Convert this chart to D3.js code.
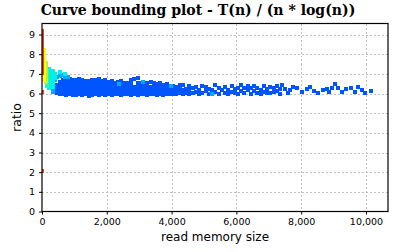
<!DOCTYPE html>
<html>
<head>
<meta charset="utf-8">
<script src="https://cdn.jsdelivr.net/npm/d3@7"></script>
<style>
  html, body { margin: 0; padding: 0; background: #ffffff; }
  svg { display: block; }
</style>
</head>
<body>
<svg id="chart" width="396" height="252"></svg>
<script>
// ---------------- data ----------------
const titleText = "Curve bounding plot - T(n) / (n * log(n))";
const xLabel = "read memory size";
const yLabel = "ratio";
const xTicks = [0, 2000, 4000, 6000, 8000, 10000];
const yTicks = [0, 1, 2, 3, 4, 5, 6, 7, 8, 9];
const xMax = 10680;
const yMax = 9.56;

// colour level of each group (0 = blue ... 6 = red)
const groupLevels = ["blue", "sky", "cyan", "green", "lime", "yellow", "red"];

const bluePoints = [
  [450,6.05],[450,6.25],[450,6.45],
  [550,5.98],[550,6.2],[550,6.4],[550,6.6],
  [650,5.95],[650,6.15],[650,6.35],[650,6.55],[650,6.7],
  [750,5.93],[750,6.12],[750,6.32],[750,6.52],[750,6.72],
  [850,5.95],[850,6.15],[850,6.35],[850,6.55],[850,6.75],
  [950,5.92],[950,6.1],[950,6.3],[950,6.5],[950,6.7],
  [1050,5.93],[1050,6.13],[1050,6.33],[1050,6.53],[1050,6.68],
  [1150,5.95],[1150,6.15],[1150,6.35],[1150,6.55],[1150,6.72],
  [1250,5.9],[1250,6.1],[1250,6.3],[1250,6.5],[1250,6.7],
  [1350,5.95],[1350,6.15],[1350,6.35],[1350,6.55],[1350,6.65],
  [1450,5.85],[1450,6.05],[1450,6.25],[1450,6.45],[1450,6.65],
  [1550,5.93],[1550,6.13],[1550,6.33],[1550,6.53],[1550,6.7],
  [1650,5.95],[1650,6.15],[1650,6.35],[1650,6.55],[1650,6.68],
  [1750,5.92],[1750,6.12],[1750,6.32],[1750,6.52],[1750,6.72],
  [1850,5.95],[1850,6.15],[1850,6.35],[1850,6.55],[1850,6.65],
  [1950,5.93],[1950,6.13],[1950,6.33],[1950,6.53],[1950,6.7],
  [2050,5.97],[2050,6.17],[2050,6.37],[2050,6.57],
  [2150,5.93],[2150,6.13],[2150,6.33],[2150,6.53],[2150,6.62],
  [2250,5.95],[2250,6.15],[2250,6.35],[2250,6.55],
  [2350,5.98],[2350,6.18],[2350,6.38],[2350,6.6],
  [2450,5.92],[2450,6.12],[2450,6.32],[2450,6.52],[2450,6.65],
  [2550,5.95],[2550,6.15],[2550,6.35],[2550,6.55],
  [2650,5.97],[2650,6.17],[2650,6.37],[2650,6.55],
  [2750,5.93],[2750,6.13],[2750,6.33],[2750,6.5],[2750,6.68],
  [2850,5.95],[2850,6.15],[2850,6.35],[2850,6.72],
  [2950,5.92],[2950,6.12],[2950,6.32],[2950,6.52],[2950,6.78],
  [3050,5.97],[3050,6.17],[3050,6.37],[3050,6.55],
  [3150,5.95],[3150,6.15],[3150,6.35],[3150,6.5],
  [3250,5.93],[3250,6.13],[3250,6.33],[3250,6.55],
  [3350,5.95],[3350,6.15],[3350,6.35],[3350,6.6],
  [3450,5.98],[3450,6.18],[3450,6.4],[3450,6.52],
  [3550,5.93],[3550,6.13],[3550,6.33],[3550,6.5],
  [3650,5.95],[3650,6.15],[3650,6.35],[3650,6.55],
  [3750,5.92],[3750,6.12],[3750,6.32],[3750,6.45],
  [3850,5.97],[3850,6.17],[3850,6.37],[3850,6.5],
  [3950,5.95],[3950,6.15],[3950,6.35],
  [4050,6.0],[4050,6.2],[4050,6.4],
  [4150,5.95],[4150,6.15],[4150,6.35],
  [4250,6.02],[4250,6.22],[4250,6.42],
  [4350,5.98],[4350,6.18],[4350,6.45],
  [4450,6.05],[4450,6.25],
  [4550,5.97],[4550,6.17],[4550,6.4],
  [4650,6.03],[4650,6.3],
  [4750,6.1],[4750,6.35],
  [4850,5.98],[4850,6.2],
  [4950,6.05],[4950,6.4],
  [5050,6.15],[5050,6.35],
  [5150,6.0],[5150,6.25],
  [5250,6.2],
  [5350,6.1],[5350,6.45],
  [5450,6.0],[5450,6.3],
  [5550,6.2],
  [5650,6.05],[5650,6.35],
  [5750,5.98],[5750,6.2],
  [5850,6.1],[5850,6.4],
  [5950,6.25],[5950,6.05],
  [6050,6.0],[6050,6.3],
  [6150,6.15],[6150,6.45],
  [6250,6.05],[6250,6.3],
  [6350,6.2],[6350,6.4],
  [6450,6.0],[6450,6.3],
  [6550,6.15],[6550,6.4],
  [6650,6.3],[6650,6.05],
  [6750,6.2],[6750,6.0],
  [6850,6.4],[6850,6.1],
  [6950,6.25],[6950,6.05],
  [7050,6.05],[7050,6.35],
  [7150,6.3],[7150,6.1],
  [7250,6.15],[7250,6.4],
  [7350,6.0],[7350,6.25],
  [7420,6.45],
  [7500,6.25],[7580,6.05],
  [7650,6.18],[7750,6.35],
  [7870,6.28],[8020,6.08],[8180,6.23],[8270,6.33],[8390,6.13],
  [8520,6.03],[8670,6.18],[8800,6.23],[8860,6.08],[8950,6.28],
  [9040,6.48],[9130,6.28],[9260,6.08],[9380,6.23],[9540,6.28],
  [9660,6.08],[9750,6.33],[9880,6.18],[9970,6.01],[10140,6.14]
];
const skyPoints = [
  [300,6.5],[350,6.3],[350,6.1],[400,6.7],[450,6.85],[550,6.9],
  [650,6.95],[700,6.82],[800,6.85],
  [2380,6.48],[3120,6.58],[3980,6.38],[5250,5.97]
];
const cyanPoints = [
  [220,7.25],[220,7.05],[220,6.85],[220,6.65],[220,6.45],[220,6.3],
  [330,7.15],[330,6.95],[330,6.75],[330,6.55],[330,6.35],
  [400,7.0],[400,6.8],[555,7.1],[700,7.0]
];
const greenPoints = [[160,7.15],[160,6.95],[160,6.75],[160,6.55],[160,6.4]];
const limePoints = [[120,7.55],[120,7.35],[120,7.15],[120,6.95],[120,6.75],[120,6.6]];
const yellowPoints = [
  [70,8.2],[70,8.0],[70,7.8],[70,7.6],[70,7.4],[70,7.2],[70,7.0],[70,6.85],[70,6.7]
];
const redPoints = [
  [0,9.2],[0,9.0],[0,8.8],[0,8.6],[0,8.4],[0,8.2],[0,8.0],[0,7.8],
  [0,7.6],[0,7.4],[0,7.2],[0,7.05],[0,6.1],[0,2.05]
];

const groups = [
  { level: "blue", points: bluePoints },
  { level: "sky", points: skyPoints },
  { level: "cyan", points: cyanPoints },
  { level: "green", points: greenPoints },
  { level: "lime", points: limePoints },
  { level: "yellow", points: yellowPoints },
  { level: "red", points: redPoints }
];

// ---------------- drawing ----------------
const svg = d3.select("#chart");
const W = 396, H = 252;
const margin = { left: 42, right: 8, top: 23.5, bottom: 40.5 };
const plotW = W - margin.left - margin.right;
const plotH = H - margin.top - margin.bottom;

const x = d3.scaleLinear().domain([0, xMax]).range([margin.left, margin.left + plotW]);
const y = d3.scaleLinear().domain([0, yMax]).range([margin.top + plotH, margin.top]);
const color = d3.scaleOrdinal()
  .domain(groupLevels)
  .range(["#0055ff", "#00aaff", "#00f0e8", "#20ff9a", "#b8f040", "#ffff00", "#e8441a"]);

svg.append("rect").attr("width", W).attr("height", H).attr("fill", "#fff");

// grid
const grid = svg.append("g").attr("stroke", "#c0c0c0").attr("stroke-width", 1)
  .attr("stroke-dasharray", "2,2").attr("shape-rendering", "crispEdges");
grid.selectAll("line.gx").data(xTicks.filter(d => d > 0)).enter().append("line")
  .attr("x1", d => Math.round(x(d)) + 0.5).attr("x2", d => Math.round(x(d)) + 0.5)
  .attr("y1", margin.top).attr("y2", margin.top + plotH);
grid.selectAll("line.gy").data(yTicks.filter(d => d > 0)).enter().append("line")
  .attr("y1", d => Math.round(y(d)) + 0.5).attr("y2", d => Math.round(y(d)) + 0.5)
  .attr("x1", margin.left).attr("x2", margin.left + plotW);

// clip
svg.append("clipPath").attr("id", "clip").append("rect")
  .attr("x", margin.left).attr("y", margin.top).attr("width", plotW).attr("height", plotH);

const S = 4;
const marks = svg.append("g").attr("clip-path", "url(#clip)").attr("shape-rendering", "crispEdges");
groups.forEach(g => {
  marks.append("g").selectAll("rect").data(g.points).enter().append("rect")
    .attr("x", d => Math.round(x(d[0]) - S / 2))
    .attr("y", d => Math.round(y(d[1]) - S / 2))
    .attr("width", S).attr("height", S)
    .attr("fill", color(g.level));
});

// axes
const fontTick = "'DejaVu Sans', sans-serif";
const xAxis = svg.append("g").attr("transform", `translate(0,${margin.top + plotH})`)
  .call(d3.axisBottom(x).tickValues(xTicks).tickFormat(d3.format(",")).tickSize(3).tickPadding(4));
const yAxis = svg.append("g").attr("transform", `translate(${margin.left},0)`)
  .call(d3.axisLeft(y).tickValues(yTicks).tickFormat(d3.format("d")).tickSize(3).tickPadding(4));
[xAxis, yAxis].forEach(a => {
  a.select(".domain").remove();
  a.selectAll("text").attr("font-family", fontTick).attr("font-size", 9.5).attr("fill", "#000");
  a.selectAll("line").attr("stroke", "#000");
});

// frame
svg.append("rect")
  .attr("x", margin.left).attr("y", margin.top).attr("width", plotW).attr("height", plotH)
  .attr("fill", "none").attr("stroke", "#000").attr("stroke-width", 1.2);

// axis titles
svg.append("text").attr("x", margin.left + plotW / 2).attr("y", 241)
  .attr("text-anchor", "middle").attr("font-family", fontTick).attr("font-size", 12)
  .attr("fill", "#000").text(xLabel);
svg.append("text").attr("transform", `translate(21,${margin.top + plotH / 2}) rotate(-90)`)
  .attr("text-anchor", "middle").attr("font-family", fontTick).attr("font-size", 12.5)
  .attr("fill", "#000").text(yLabel);

// title
const title = svg.append("text").attr("x", W / 2).attr("y", 15)
  .attr("text-anchor", "middle").attr("font-family", "'DejaVu Serif', serif")
  .attr("font-weight", "bold").attr("font-size", 14).attr("fill", "#000").text(titleText);
const tw = title.node().getComputedTextLength();
if (tw > 0) title.attr("font-size", 14 * 315 / tw);
</script>
</body>
</html>
